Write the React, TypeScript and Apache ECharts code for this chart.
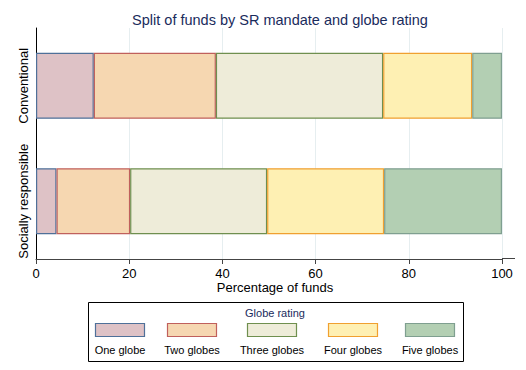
import React, { useEffect, useRef } from "react";
import * as echarts from "echarts";

const categories = ["Conventional", "Socially responsible"];
const seriesNames = ["One globe", "Two globes", "Three globes", "Four globes", "Five globes"];
const conventional = [12.4, 26.2, 35.9, 19.1, 6.4];
const sociallyResponsible = [4.4, 15.8, 29.4, 25.1, 25.3];
const xTicks = [0, 20, 40, 60, 80, 100];
const xTitle = "Percentage of funds";

const fills = ["#dec2c6", "#f6d7b1", "#eeecd9", "#fef0b3", "#b3cfb3"];
const borders = ["#4f7099", "#c0605c", "#6f8f4f", "#f0a030", "#7f9f90"];

const FONT = "Liberation Sans, Arial, Helvetica, sans-serif";
const NAVY = "#1a2b5c";

export default function App() {
  const ref = useRef<HTMLDivElement>(null);
  useEffect(() => {
    document.body.style.margin = "0";
    if (!ref.current) return;
    const chart = echarts.init(ref.current, undefined, { renderer: "svg" });
    const legendCenters = [120, 192, 272, 353, 430];
    const legendGraphics: any[] = [
      {
        type: "text",
        x: 275,
        y: 287,
        style: {
          text: xTitle,
          fill: "#000",
          font: `13px ${FONT}`,
          textAlign: "center",
          textVerticalAlign: "middle",
        },
        z: 11,
      },
      {
        type: "rect",
        shape: { x: 88.5, y: 302.5, width: 375, height: 59 },
        style: { fill: "#fff", stroke: "#000", lineWidth: 1 },
        z: 10,
      },
      {
        type: "text",
        x: 275,
        y: 313,
        style: {
          text: "Globe rating",
          fill: NAVY,
          font: `11px ${FONT}`,
          textAlign: "center",
          textVerticalAlign: "middle",
        },
        z: 11,
      },
    ];
    seriesNames.forEach((n, i) => {
      legendGraphics.push({
        type: "rect",
        shape: { x: legendCenters[i] - 24.5, y: 323.5, width: 49, height: 13 },
        style: { fill: fills[i], stroke: borders[i], lineWidth: 1.2 },
        z: 11,
      });
      legendGraphics.push({
        type: "text",
        x: legendCenters[i],
        y: 350,
        style: {
          text: n,
          fill: "#000",
          font: `11px ${FONT}`,
          textAlign: "center",
          textVerticalAlign: "middle",
        },
        z: 11,
      });
    });
    legendGraphics.push({
      type: "line",
      shape: { x1: 502, y1: 258.5, x2: 515, y2: 258.5 },
      style: { stroke: "#444", lineWidth: 1 },
      z: 10,
    });

    chart.setOption({
      animation: false,
      textStyle: { fontFamily: FONT },
      title: {
        text: "Split of funds by SR mandate and globe rating",
        left: 275,
        textAlign: "center",
        top: 7,
        textStyle: { color: NAVY, fontSize: 14.5, fontWeight: "normal", fontFamily: FONT },
      },
      grid: { left: 36, right: 24, top: 28, bottom: 111, containLabel: false },
      xAxis: {
        type: "value",
        min: 0,
        max: 100,
        interval: 20,
        axisLine: { show: true, lineStyle: { color: "#444", width: 1 } },
        axisTick: { show: true, length: 5, lineStyle: { color: "#444" } },
        axisLabel: { color: "#000", fontSize: 13, margin: 8, fontFamily: FONT },
        splitLine: { show: true, lineStyle: { color: "#e6eef0", width: 1 } },
        data: xTicks,
      },
      yAxis: {
        type: "category",
        inverse: true,
        data: categories,
        axisLine: { show: true, lineStyle: { color: "#000", width: 1 } },
        axisTick: { show: false },
        axisLabel: {
          rotate: 90,
          interval: 0,
          hideOverlap: false,
          color: "#000",
          fontSize: 13,
          margin: 6,
          fontFamily: FONT,
        },
        splitLine: { show: false },
      },
      series: seriesNames.map((n, i) => ({
        name: n,
        type: "bar",
        stack: "total",
        barWidth: 66,
        data: [conventional[i], sociallyResponsible[i]],
        itemStyle: { color: fills[i], borderColor: borders[i], borderWidth: 1.2 },
      })),
      graphic: legendGraphics,
    });
    return () => chart.dispose();
  }, []);
  return <div ref={ref} style={{ width: 526, height: 370 }} />;
}
